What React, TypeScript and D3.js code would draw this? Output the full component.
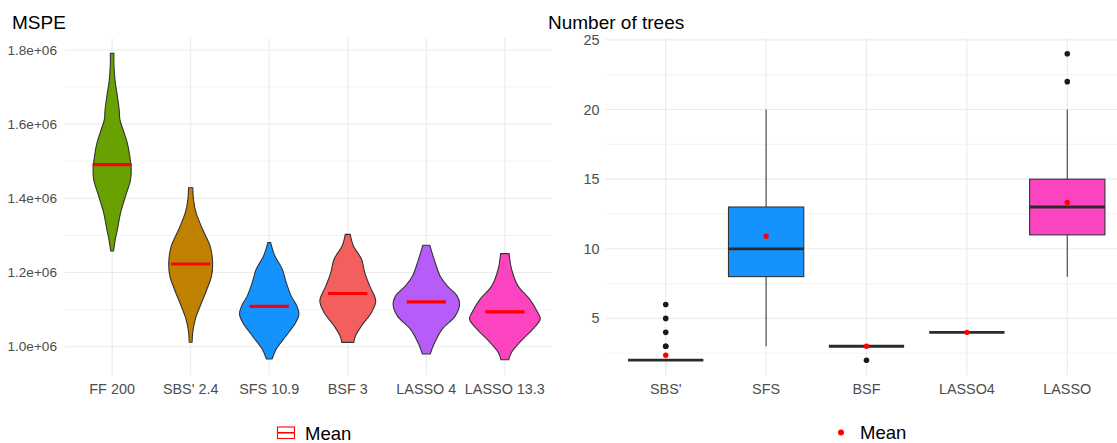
import React, { useEffect, useRef } from 'react'
import * as d3 from 'd3';

const WIDTH = 1117;
const HEIGHT = 443;
const FONT = "'Liberation Sans', Arial, Helvetica, sans-serif";

// ---- left panel: MSPE violins ----
const mspeLabels = ["FF 200", "SBS' 2.4", "SFS 10.9", "BSF 3", "LASSO 4", "LASSO 13.3"];
const mspeMeans = [1.491e6, 1.223e6, 1.109e6, 1.1435e6, 1.121e6, 1.094e6];
const mspeTicks = [1.0e6, 1.2e6, 1.4e6, 1.6e6, 1.8e6];
const mspeTickLabels = ["1.0e+06", "1.2e+06", "1.4e+06", "1.6e+06", "1.8e+06"];
const mspeMinor = [1.1e6, 1.3e6, 1.5e6, 1.7e6];

// [value, relative density]
const ffDensity = [
  [1.258e6, 0.04], [1.2895e6, 0.09], [1.3164e6, 0.15], [1.3613e6, 0.24], [1.406e6, 0.38],
  [1.45e6, 0.52], [1.4773e6, 0.54], [1.5134e6, 0.5], [1.549e6, 0.43], [1.585e6, 0.31],
  [1.612e6, 0.22], [1.639e6, 0.2], [1.6747e6, 0.15], [1.7196e6, 0.08], [1.7645e6, 0.05], [1.791e6, 0.05],
];
const sbsDensity = [
  [1.012e6, 0.04], [1.04e6, 0.06], [1.074e6, 0.13], [1.11e6, 0.27], [1.155e6, 0.46], [1.191e6, 0.59],
  [1.228e6, 0.62], [1.271e6, 0.55], [1.316e6, 0.34], [1.362e6, 0.15], [1.397e6, 0.08], [1.4285e6, 0.06],
];
const sfsDensity = [
  [0.9669e6, 0.08], [0.9938e6, 0.2], [1.0296e6, 0.48], [1.0656e6, 0.75], [1.0879e6, 0.84], [1.1102e6, 0.78],
  [1.1371e6, 0.62], [1.1731e6, 0.48], [1.2089e6, 0.37], [1.2446e6, 0.16], [1.2806e6, 0.04],
];
const bsfDensity = [
  [1.0118e6, 0.17], [1.0296e6, 0.22], [1.0564e6, 0.39], [1.0925e6, 0.67], [1.1236e6, 0.79], [1.164e6, 0.62],
  [1.2e6, 0.48], [1.2357e6, 0.39], [1.2715e6, 0.16], [1.3029e6, 0.07],
];
const lasso4Density = [
  [0.9804e6, 0.11], [1.0118e6, 0.24], [1.0476e6, 0.45], [1.0833e6, 0.82], [1.1148e6, 0.94], [1.1371e6, 0.87],
  [1.164e6, 0.59], [1.1908e6, 0.39], [1.2357e6, 0.22], [1.2734e6, 0.1],
];
const lassoDensity = [
  [0.9651e6, 0.11], [0.9849e6, 0.19], [1.0118e6, 0.42], [1.0476e6, 0.79], [1.0745e6, 1.0], [1.0925e6, 0.93],
  [1.1282e6, 0.7], [1.164e6, 0.37], [1.2089e6, 0.19], [1.2511e6, 0.12],
];
const mspeDensities = [ffDensity, sbsDensity, sfsDensity, bsfDensity, lasso4Density, lassoDensity];

// ---- right panel: number of trees boxplots ----
const treeLabels = ["SBS'", "SFS", "BSF", "LASSO4", "LASSO"];
const treeQ1 = [2, 8, 3, 4, 11];
const treeMedian = [2, 10, 3, 4, 13];
const treeQ3 = [2, 13, 3, 4, 15];
const treeWhiskerLow = [2, 3, 3, 4, 8];
const treeWhiskerHigh = [2, 20, 3, 4, 20];
const treeMeans = [2.35, 10.9, 3.0, 4.0, 13.33];
const treeOutliers = [[3, 3, 4, 5, 6], [], [2], [], [22, 24]];
const treeTicks = [5, 10, 15, 20, 25];
const treeMinor = [2.5, 7.5, 12.5, 17.5, 22.5];

const violinColors = ["#68A100", "#C08000", "#1493FF", "#F25F5C", "#B65CF9", "#FC44C0"];
const boxColors = ["#C08000", "#1493FF", "#F25F5C", "#B65CF9", "#FC44C0"];

const GRID = "#EBEBEB";
const AXIS_TEXT = "#4D4D4D";

const App = () => {
  const svgRef = useRef<SVGSVGElement>(null);

  useEffect(() => {
    const svg = d3.select(svgRef.current);
    svg.selectAll("*").remove();
    svg.style("font-family", FONT);

    // ================= left panel =================
    const L = { left: 65, right: 552, top: 38, bottom: 375 };
    const allVals = mspeDensities.flat().map(d => d[0]);
    const vmin = d3.min(allVals)!, vmax = d3.max(allVals)!;
    const pad = (vmax - vmin) * 0.05;
    const yL = d3.scaleLinear().domain([vmin - pad, vmax + pad]).range([L.bottom, L.top]);
    const xL = d3.scalePoint().domain(mspeLabels).range([L.left, L.right]).padding(0.6);
    const stepL = xL.step();
    const wL = d3.scaleLinear().domain([0, 1]).range([0, 0.45 * stepL]);

    const gl = svg.append("g");
    gl.selectAll("line.minor").data(mspeMinor).join("line")
      .attr("x1", L.left).attr("x2", L.right)
      .attr("y1", d => yL(d)).attr("y2", d => yL(d))
      .attr("stroke", GRID).attr("stroke-width", 0.6);
    gl.selectAll("line.major").data(mspeTicks).join("line")
      .attr("x1", L.left).attr("x2", L.right)
      .attr("y1", d => yL(d)).attr("y2", d => yL(d))
      .attr("stroke", GRID).attr("stroke-width", 1.1);
    gl.selectAll("line.vx").data(mspeLabels).join("line")
      .attr("x1", d => xL(d)!).attr("x2", d => xL(d)!)
      .attr("y1", L.top).attr("y2", L.bottom)
      .attr("stroke", GRID).attr("stroke-width", 1.1);

    mspeLabels.forEach((lab, i) => {
      const cx = xL(lab)!;
      const area = d3.area<number[]>()
        .y(d => yL(d[0]))
        .x0(d => cx - wL(d[1]))
        .x1(d => cx + wL(d[1]))
        .curve(d3.curveCatmullRom);
      gl.append("path")
        .attr("d", area(mspeDensities[i])!)
        .attr("fill", violinColors[i])
        .attr("stroke", "#333333")
        .attr("stroke-width", 1.1);
      gl.append("line")
        .attr("x1", cx - 0.25 * stepL).attr("x2", cx + 0.25 * stepL)
        .attr("y1", yL(mspeMeans[i])).attr("y2", yL(mspeMeans[i]))
        .attr("stroke", "#FF0000").attr("stroke-width", 3.2);
    });

    gl.selectAll("text.yt").data(mspeTicks).join("text")
      .attr("x", L.left - 8).attr("y", d => yL(d)).attr("dy", "0.35em")
      .attr("text-anchor", "end").attr("font-size", 13.6).attr("fill", AXIS_TEXT)
      .text((d, i) => mspeTickLabels[i]);
    gl.selectAll("text.xt").data(mspeLabels).join("text")
      .attr("x", d => xL(d)!).attr("y", 394)
      .attr("text-anchor", "middle").attr("font-size", 14.4).attr("fill", AXIS_TEXT)
      .text(d => d);
    gl.append("text").attr("x", 12).attr("y", 28.5)
      .attr("font-size", 19).attr("fill", "#000").text("MSPE");

    // legend (crossbar key)
    const lg = gl.append("g").attr("transform", "translate(277,426.5)");
    lg.append("rect").attr("x", 0.5).attr("y", 0.5).attr("width", 17).attr("height", 11.5)
      .attr("fill", "none").attr("stroke", "#FF0000").attr("stroke-width", 1.1);
    lg.append("line").attr("x1", 0.5).attr("x2", 17.5).attr("y1", 6.25).attr("y2", 6.25)
      .attr("stroke", "#FF0000").attr("stroke-width", 1.6);
    lg.append("text").attr("x", 28).attr("y", 13).attr("font-size", 18.5).attr("fill", "#000").text("Mean");

    // ================= right panel =================
    const R = { left: 605.5, right: 1127.5, top: 38.5, bottom: 375.5 };
    const tvals = [...treeWhiskerLow, ...treeWhiskerHigh, ...treeOutliers.flat()];
    const tmin = d3.min(tvals)!, tmax = d3.max(tvals)!;
    const tpad = (tmax - tmin) * 0.05;
    const yR = d3.scaleLinear().domain([tmin - tpad, tmax + tpad]).range([R.bottom, R.top]);
    const xR = d3.scalePoint().domain(treeLabels).range([R.left, R.right]).padding(0.6);
    const stepR = xR.step();
    const hw = 0.375 * stepR;

    const gr = svg.append("g");
    gr.selectAll("line.minor").data(treeMinor).join("line")
      .attr("x1", R.left).attr("x2", R.right)
      .attr("y1", d => yR(d)).attr("y2", d => yR(d))
      .attr("stroke", GRID).attr("stroke-width", 0.6);
    gr.selectAll("line.major").data(treeTicks).join("line")
      .attr("x1", R.left).attr("x2", R.right)
      .attr("y1", d => yR(d)).attr("y2", d => yR(d))
      .attr("stroke", GRID).attr("stroke-width", 1.1);
    gr.selectAll("line.vx").data(treeLabels).join("line")
      .attr("x1", d => xR(d)!).attr("x2", d => xR(d)!)
      .attr("y1", R.top).attr("y2", R.bottom)
      .attr("stroke", GRID).attr("stroke-width", 1.1);

    treeLabels.forEach((lab, i) => {
      const cx = xR(lab)!;
      // whiskers
      gr.append("line").attr("x1", cx).attr("x2", cx)
        .attr("y1", yR(treeQ3[i])).attr("y2", yR(treeWhiskerHigh[i]))
        .attr("stroke", "#404040").attr("stroke-width", 1.1);
      gr.append("line").attr("x1", cx).attr("x2", cx)
        .attr("y1", yR(treeQ1[i])).attr("y2", yR(treeWhiskerLow[i]))
        .attr("stroke", "#404040").attr("stroke-width", 1.1);
      // box
      gr.append("rect")
        .attr("x", cx - hw).attr("width", 2 * hw)
        .attr("y", yR(treeQ3[i])).attr("height", yR(treeQ1[i]) - yR(treeQ3[i]))
        .attr("fill", boxColors[i]).attr("stroke", "#333333").attr("stroke-width", 1.1);
      // median
      gr.append("line").attr("x1", cx - hw).attr("x2", cx + hw)
        .attr("y1", yR(treeMedian[i])).attr("y2", yR(treeMedian[i]))
        .attr("stroke", "#2B2B2B").attr("stroke-width", 2.8);
      // outliers
      gr.selectAll(null).data(treeOutliers[i]).join("circle")
        .attr("cx", cx).attr("cy", d => yR(d)).attr("r", 2.8)
        .attr("fill", "#1A1A1A");
      // mean
      gr.append("circle").attr("cx", cx).attr("cy", yR(treeMeans[i])).attr("r", 2.7)
        .attr("fill", "#FF0000");
    });

    gr.selectAll("text.yt").data(treeTicks).join("text")
      .attr("x", R.left - 6).attr("y", d => yR(d)).attr("dy", "0.35em")
      .attr("text-anchor", "end").attr("font-size", 14.4).attr("fill", AXIS_TEXT)
      .text(d => d);
    gr.selectAll("text.xt").data(treeLabels).join("text")
      .attr("x", d => xR(d)!).attr("y", 393.5)
      .attr("text-anchor", "middle").attr("font-size", 14.4).attr("fill", AXIS_TEXT)
      .text(d => d);
    gr.append("text").attr("x", 548).attr("y", 28.5)
      .attr("font-size", 19).attr("fill", "#000").text("Number of trees");

    const rg = gr.append("g").attr("transform", "translate(841,432.5)");
    rg.append("circle").attr("r", 3).attr("fill", "#FF0000");
    rg.append("text").attr("x", 19).attr("y", 6.8).attr("font-size", 18.5).attr("fill", "#000").text("Mean");
  }, []);

  return (
    <svg ref={svgRef} width={WIDTH} height={HEIGHT}
      style={{ position: "absolute", left: 0, top: 0, background: "#fff" }} />
  );
};

export default App;
